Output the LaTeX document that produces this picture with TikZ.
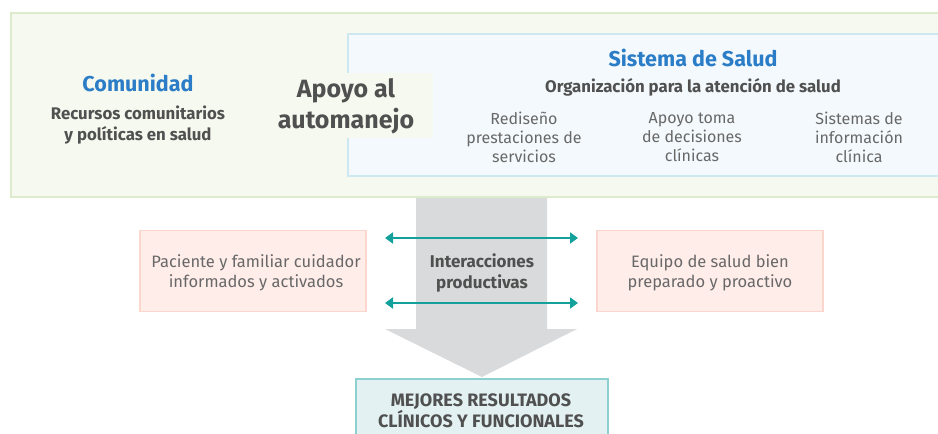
\documentclass[tikz,border=0pt]{standalone}
\usepackage{fontspec}
\setmainfont{Fira Sans}
\usetikzlibrary{arrows.meta}
\definecolor{greenfill}{HTML}{F6F9EF}
\definecolor{greenline}{HTML}{DCEBCB}
\definecolor{bluefill}{HTML}{F3F9FC}
\definecolor{blueline}{HTML}{CDE8F0}
\definecolor{titleblue}{HTML}{2A7DC6}
\definecolor{darktext}{HTML}{505050}
\definecolor{lighttext}{HTML}{686868}
\definecolor{pinkfill}{HTML}{FFEDEA}
\definecolor{pinkline}{HTML}{FAD6CC}
\definecolor{teal}{HTML}{14A19C}
\definecolor{grayarrow}{HTML}{D9DADB}
\definecolor{resfill}{HTML}{E3F1F2}
\definecolor{resline}{HTML}{8ECFD0}
\tikzset{
  titletext/.style={text=titleblue, font=\fontsize{21.5}{24}\selectfont\bfseries, inner sep=0pt},
  subtext/.style={text=darktext, font=\fontsize{16.8}{21}\selectfont\bfseries, align=center, inner sep=0pt},
  coltext/.style={text=lighttext, font=\fontsize{16}{19}\selectfont, align=center, inner sep=0pt},
  pinkbox/.style={draw=pinkline, fill=pinkfill, line width=1.5pt, minimum width=226pt, minimum height=81pt, inner sep=0pt},
  pinktext/.style={text=lighttext, font=\fontsize{16.5}{20}\selectfont, align=center, inner sep=0pt},
  tealarrow/.style={draw=teal, line width=2pt, {Triangle[length=8pt,width=11pt]}-{Triangle[length=8pt,width=11pt]}}
}
\begin{document}
\begin{tikzpicture}[x=1pt,y=-1pt]
\useasboundingbox (0,0) rectangle (938,434);
\clip (0,0) rectangle (938,434);
% big gray arrow
\fill[grayarrow] (416,185) -- (547,185) -- (547,329) -- (577,329) -- (482,377) -- (385,329) -- (416,329) -- cycle;
% outer green panel
\node[draw=greenline, fill=greenfill, line width=2pt, minimum width=940pt, minimum height=184pt, inner sep=0pt, anchor=north west] (community) at (10,12) {};
% health system panel
\node[draw=blueline, fill=bluefill, line width=1.5pt, minimum width=595pt, minimum height=142pt, inner sep=0pt, anchor=north west] (system) at (347,33) {};
% self management box
\node[fill=greenfill, minimum width=150pt, minimum height=65pt, inner sep=0pt, anchor=north east] (selfbox) at (433,73) {};
\node[text=darktext, font=\fontsize{25}{31}\selectfont\bfseries, align=center, inner sep=0pt] (selftext) at (346,106.5) {Apoyo al\\automanejo};
% community texts
\node[titletext] (comtitle) at (138,83) {Comunidad};
\node[subtext] (comsub) at (138,125.5) {Recursos comunitarios\\y políticas en salud};
% system texts
\node[titletext] (systitle) at (693,58) {Sistema de Salud};
\node[subtext] (syssub) at (693,87.5) {Organización para la atención de salud};
\node[coltext] (col1) at (524,137) {Rediseño\\prestaciones de\\servicios};
\node[coltext] (col2) at (692,137) {Apoyo toma\\de decisiones\\clínicas};
\node[coltext] (col3) at (859,137) {Sistemas de\\información\\clínica};
% pink boxes
\node[pinkbox] (patient) at (253,271) {};
\node[pinktext] (patienttext) at (256,272.5) {Paciente y familiar cuidador\\informados y activados};
\node[pinkbox] (team) at (710,271) {};
\node[pinktext] (teamtext) at (710,272.5) {Equipo de salud bien\\preparado y proactivo};
% interactions
\node[text=darktext, font=\fontsize{17}{21}\selectfont\bfseries, align=center, inner sep=0pt] (inter) at (482,272.5) {Interacciones\\productivas};
\coordinate (a1l) at (385,238);
\coordinate (a1r) at (578,238);
\coordinate (a2l) at (385,303);
\coordinate (a2r) at (578,303);
\draw[tealarrow] (a1l) -- (a1r);
\draw[tealarrow] (a2l) -- (a2r);
% result box
\node[draw=resline, fill=resfill, line width=2pt, minimum width=252pt, minimum height=70pt, inner sep=0pt, anchor=north west] (result) at (355,378) {};
\node[text=darktext, font=\fontsize{18}{19.5}\selectfont\bfseries, align=center, inner sep=0pt] (resulttext) at (481,410.5) {MEJORES RESULTADOS\\CLÍNICOS Y FUNCIONALES};
\end{tikzpicture}
\end{document}
